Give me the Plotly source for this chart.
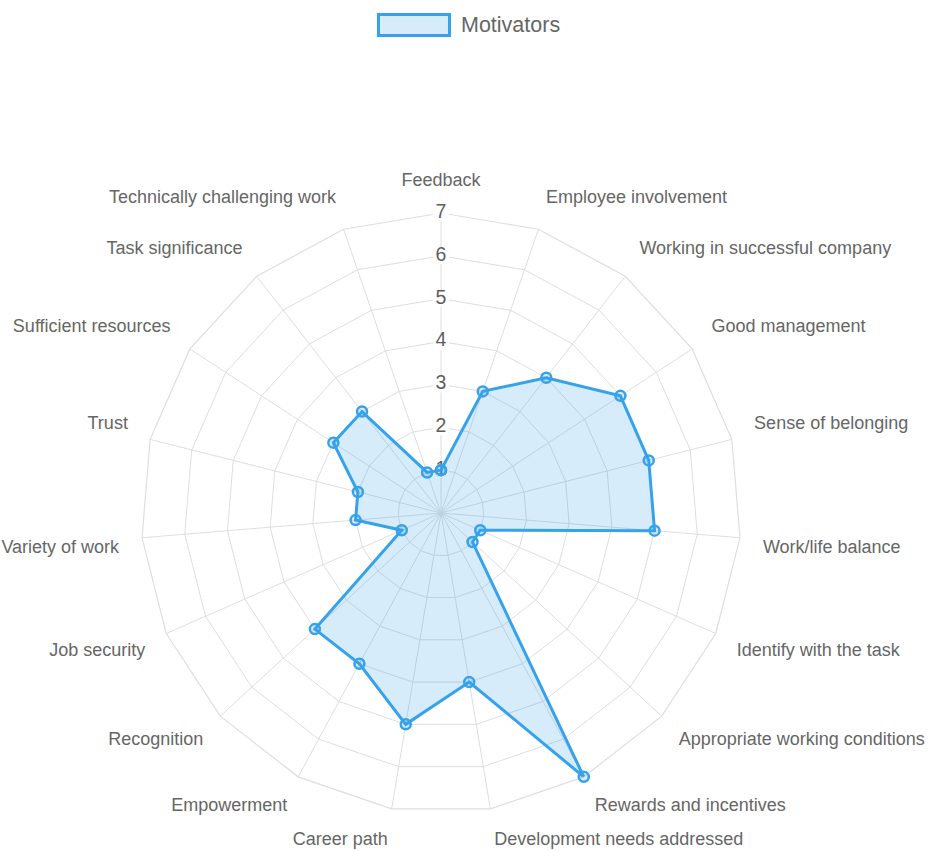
import plotly.graph_objects as go

categories = [
    "Feedback", "Employee involvement", "Working in successful company",
    "Good management", "Sense of belonging", "Work/life balance",
    "Identify with the task", "Appropriate working conditions",
    "Rewards and incentives", "Development needs addressed", "Career path",
    "Empowerment", "Recognition", "Job security", "Variety of work", "Trust",
    "Sufficient resources", "Task significance", "Technically challenging work",
]
motivators = [1, 3, 4, 5, 5, 5, 1, 1, 7, 4, 5, 4, 4, 1, 2, 2, 3, 3, 1]
series_name = "Motivators"

tick_values = [1, 2, 3, 4, 5, 6, 7]
tick_labels = ["1", "2", "3", "4", "5", "6", "7"]

R_MAX = 7

BLUE = "rgb(54,162,235)"
BLUE_FILL = "rgba(54,162,235,0.2)"
GRID = "#dedede"
TEXT = "#666666"
TICK_TEXT = "#5e5e5e"
FONT = "Liberation Sans, Arial, Helvetica, sans-serif"

W, H = 931, 851
CX, CY, RAD = 441, 513, 300      # chart centre and outer radius (px)
LABEL_RAD = RAD + 23             # point labels sit just outside the outer ring


def label_position(i, n):
    a = i * 360.0 / n
    if a == 0:
        return "top center"
    if a == 180:
        return "bottom center"
    h = "right" if a < 180 else "left"
    if a in (90, 270):
        v = "middle"
    elif a < 90 or a > 270:
        v = "top"
    else:
        v = "bottom"
    return f"{v} {h}"


def domain(rad):
    return dict(x=[(CX - rad) / W, (CX + rad) / W],
                y=[(H - CY - rad) / H, (H - CY + rad) / H])


n = len(categories)
fig = go.Figure()

# radial tick label backdrops (white boxes like Chart.js) and labels
fig.add_trace(go.Scatterpolar(
    r=tick_values, theta=[categories[0]] * len(tick_values),
    mode="markers",
    marker=dict(symbol="square", size=16, color="white"),
    showlegend=False, hoverinfo="skip",
))
fig.add_trace(go.Scatterpolar(
    r=tick_values, theta=[categories[0]] * len(tick_values),
    mode="text", text=tick_labels,
    textfont=dict(family=FONT, size=19.5, color=TICK_TEXT),
    textposition="middle center",
    showlegend=False, hoverinfo="skip",
))

# data
fig.add_trace(go.Scatterpolar(
    r=motivators + [motivators[0]],
    theta=categories + [categories[0]],
    name=series_name,
    mode="lines+markers",
    fill="toself",
    fillcolor=BLUE_FILL,
    line=dict(color=BLUE, width=3),
    marker=dict(size=10, color=BLUE_FILL, line=dict(color=BLUE, width=2.5)),
    showlegend=False,
))

# point labels (Chart.js style placement) on an invisible, slightly larger polar
fig.add_trace(go.Scatterpolar(
    r=[1] * n, theta=categories, subplot="polar2",
    mode="text", text=categories,
    textposition=[label_position(i, n) for i in range(n)],
    textfont=dict(family=FONT, size=18, color=TEXT),
    cliponaxis=False,
    showlegend=False, hoverinfo="skip",
))

# legend (Chart.js style box + label)
fig.add_shape(
    type="rect", xref="paper", yref="paper",
    x0=378.5 / W, x1=449.5 / W, y0=1 - 35.5 / H, y1=1 - 14.5 / H,
    fillcolor=BLUE_FILL, line=dict(color=BLUE, width=3),
)
fig.add_annotation(
    xref="paper", yref="paper", x=459 / W, y=1 - 25 / H,
    xanchor="left", yanchor="middle", showarrow=False,
    text=series_name, font=dict(family=FONT, size=21.5, color=TEXT),
)

fig.update_layout(
    width=W, height=H,
    margin=dict(l=0, r=0, t=0, b=0),
    paper_bgcolor="white",
    font=dict(family=FONT, color=TEXT),
    showlegend=False,
    polar=dict(
        domain=domain(RAD),
        bgcolor="white",
        gridshape="linear",
        radialaxis=dict(
            range=[0, R_MAX], dtick=1, tick0=0,
            showticklabels=False, ticks="",
            showline=False, gridcolor=GRID, gridwidth=1.2,
            angle=90, layer="below traces",
        ),
        angularaxis=dict(
            type="category", rotation=90, direction="clockwise",
            categoryorder="array", categoryarray=categories,
            showline=True, linecolor=GRID, linewidth=1.2,
            gridcolor=GRID, gridwidth=1.2,
            showticklabels=False, ticks="",
            layer="below traces",
        ),
    ),
    polar2=dict(
        domain=domain(LABEL_RAD),
        bgcolor="rgba(0,0,0,0)",
        gridshape="linear",
        radialaxis=dict(range=[0, 1], visible=False, showgrid=False),
        angularaxis=dict(
            type="category", rotation=90, direction="clockwise",
            categoryorder="array", categoryarray=categories,
            showline=False, showgrid=False, showticklabels=False, ticks="",
        ),
    ),
)

fig.write_html("out.html", post_script="document.body.style.margin='0';",
               config={"displayModeBar": False})
